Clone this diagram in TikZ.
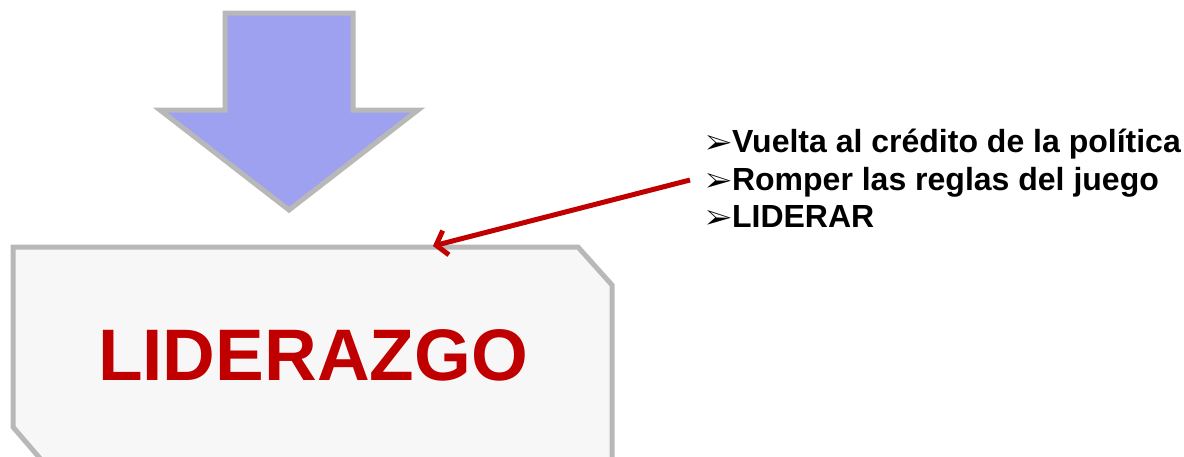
\documentclass[tikz,border=0pt]{standalone}
\usepackage{fontspec}
\setmainfont{Liberation Sans}
\usepackage{pifont}
\usetikzlibrary{arrows.meta}
\definecolor{boxgray}{HTML}{B8B8B8}
\definecolor{boxfill}{HTML}{F7F7F7}
\definecolor{arrowblue}{HTML}{9EA0F0}
\definecolor{darkred}{HTML}{C00000}
\newcommand{\itemmark}{{\fontsize{28}{28}\selectfont\ding{226}}}
\tikzset{
  outline/.style={draw=boxgray, line width=5pt, line join=miter},
  item/.style={anchor=base west, inner sep=0pt, font=\fontsize{32}{38}\selectfont\bfseries},
}
\begin{document}
\begin{tikzpicture}[x=1pt,y=-1pt]
\useasboundingbox (0,0) rectangle (1184,456);
\clip (0,0) rectangle (1184,456);
\draw[outline, fill=arrowblue] (225,13) -- (353,13) -- (353,110) -- (418,110) -- (289,210) -- (160,110) -- (225,110) -- cycle;
\draw[outline, fill=boxfill] (13,247) -- (578,247) -- (612,285) -- (612,470) -- (50,470) -- (13,427) -- cycle;
\draw (313,355) node[font=\fontsize{73}{80}\selectfont\bfseries, text=darkred] (lead) {LIDERAZGO};
\draw (706,152) node[item] (i1) {\itemmark Vuelta al crédito de la política};
\draw (706,190) node[item] (i2) {\itemmark Romper las reglas del juego};
\draw (706,227) node[item] (i3) {\itemmark LIDERAR};
\coordinate (from) at (690,180);
\coordinate (boxtop) at (433,246);
\draw[darkred, line width=5pt, -{Straight Barb[length=10pt,width=25pt]}] (from) -- (boxtop);
\end{tikzpicture}
\end{document}
